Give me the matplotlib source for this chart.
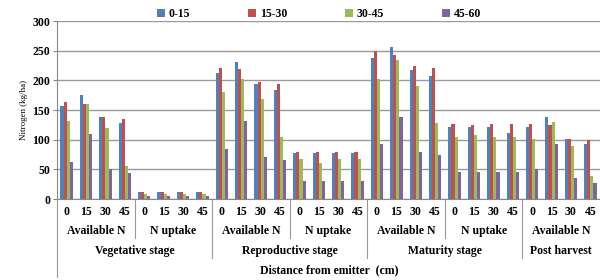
import numpy as np
import matplotlib.pyplot as plt
from matplotlib.transforms import blended_transform_factory

# series names and values (7 blocks x 4 distances)
series = ['0-15', '15-30', '30-45', '45-60']
colors = ['#4F81BD', '#C0504D', '#9BBB59', '#8064A2']

d0_15 = [157, 176, 138, 129,  12, 12, 12, 12,  212, 231, 194, 184,  77, 77, 77, 77,
         237, 257, 218, 208,  121, 121, 121, 112,  121, 139, 102, 93]
d15_30 = [163, 160, 138, 135,  12, 12, 12, 12,  221, 219, 197, 194,  80, 80, 80, 80,
          249, 242, 225, 221,  127, 124, 127, 127,  127, 124, 102, 99]
d30_45 = [132, 160, 119, 56,  9, 9, 9, 9,  181, 203, 168, 105,  68, 61, 68, 68,
          202, 234, 190, 128,  105, 108, 105, 105,  102, 130, 89, 39]
d45_60 = [62, 110, 50, 44,  6, 6, 6, 6,  84, 131, 71, 65,  31, 31, 31, 31,
          93, 139, 80, 74,  46, 46, 46, 46,  50, 93, 36, 27]

distances = ['0', '15', '30', '45']
params = ['Available N', 'N uptake', 'Available N', 'N uptake',
          'Available N', 'N uptake', 'Available N']
stages = ['Vegetative stage', 'Reproductive stage', 'Maturity stage', 'Post harvest']
stage_blocks = [2, 2, 2, 1]

plt.rcParams['font.family'] = ['Liberation Serif', 'DejaVu Serif']
plt.rcParams['font.weight'] = 'bold'
fs = 8.5

fig = plt.figure(figsize=(6, 2.8), dpi=100)
ax = fig.add_axes([0.095, 0.289, 0.905, 0.636])

data = [d0_15, d15_30, d30_45, d45_60]
n = len(d0_15)
x = np.arange(n)
w = 0.16
for i, (vals, c, name) in enumerate(zip(data, colors, series)):
    ax.bar(x + (i - 1.5) * w, vals, width=w, color=c, label=name,
           edgecolor='none', zorder=3)

ax.set_xlim(-0.5, n - 0.5)
ax.set_ylim(0, 300)
ax.set_yticks(range(0, 301, 50))
ax.yaxis.grid(True, color='#9a9a9a', linewidth=1.0, zorder=0)
ax.tick_params(axis='y', labelsize=fs, length=3, color='#888888', pad=2)
ax.tick_params(axis='x', length=0)
ax.set_xticks([])
for s in ['top', 'right']:
    ax.spines[s].set_visible(False)
ax.spines['left'].set_color('#888888')
ax.spines['bottom'].set_color('#888888')
ax.set_ylabel('Nitrogen (kg/ha)', fontsize=6.5, labelpad=3)

# multi-level category labels
tr = blended_transform_factory(ax.transData, fig.transFigure)
y_dist, y_par, y_stage = 1 - 212 / 280, 1 - 231 / 280, 1 - 251 / 280
for k in range(n):
    ax.text(k, y_dist, distances[k % 4], transform=tr, ha='center', va='center',
            fontsize=fs, clip_on=False)
for b, p in enumerate(params):
    ax.text(b * 4 + 1.5, y_par, p, transform=tr, ha='center', va='center',
            fontsize=fs, clip_on=False)

line_kw = dict(transform=tr, color='#999999', linewidth=0.8, clip_on=False)
start = 0
for st, nb in zip(stages, stage_blocks):
    end = start + nb * 4
    ax.text((start + end - 1) / 2, y_stage, st, transform=tr, ha='center',
            va='center', fontsize=fs, clip_on=False)
    for b in range(1, nb):
        xb = start + b * 4 - 0.5
        ax.plot([xb, xb], [1 - 199 / 280, 1 - 238 / 280], **line_kw)
    if end < n:
        ax.plot([end - 0.5, end - 0.5], [1 - 199 / 280, 1 - 258 / 280], **line_kw)
    start = end
ax.plot([-0.5, -0.5], [1 - 199 / 280, 1 - 277 / 280], **line_kw)

fig.text(0.549, 1 - 270 / 280, 'Distance from emitter  (cm)', ha='center',
         va='center', fontsize=fs)

fig.legend(loc='center left', bbox_to_anchor=(157 / 600, 1 - 14 / 280), ncol=4,
           frameon=False, fontsize=fs, handlelength=0.7, handleheight=0.7,
           handletextpad=0.3, columnspacing=4.9, borderpad=0, borderaxespad=0)

fig.savefig('out.png', dpi=100)
